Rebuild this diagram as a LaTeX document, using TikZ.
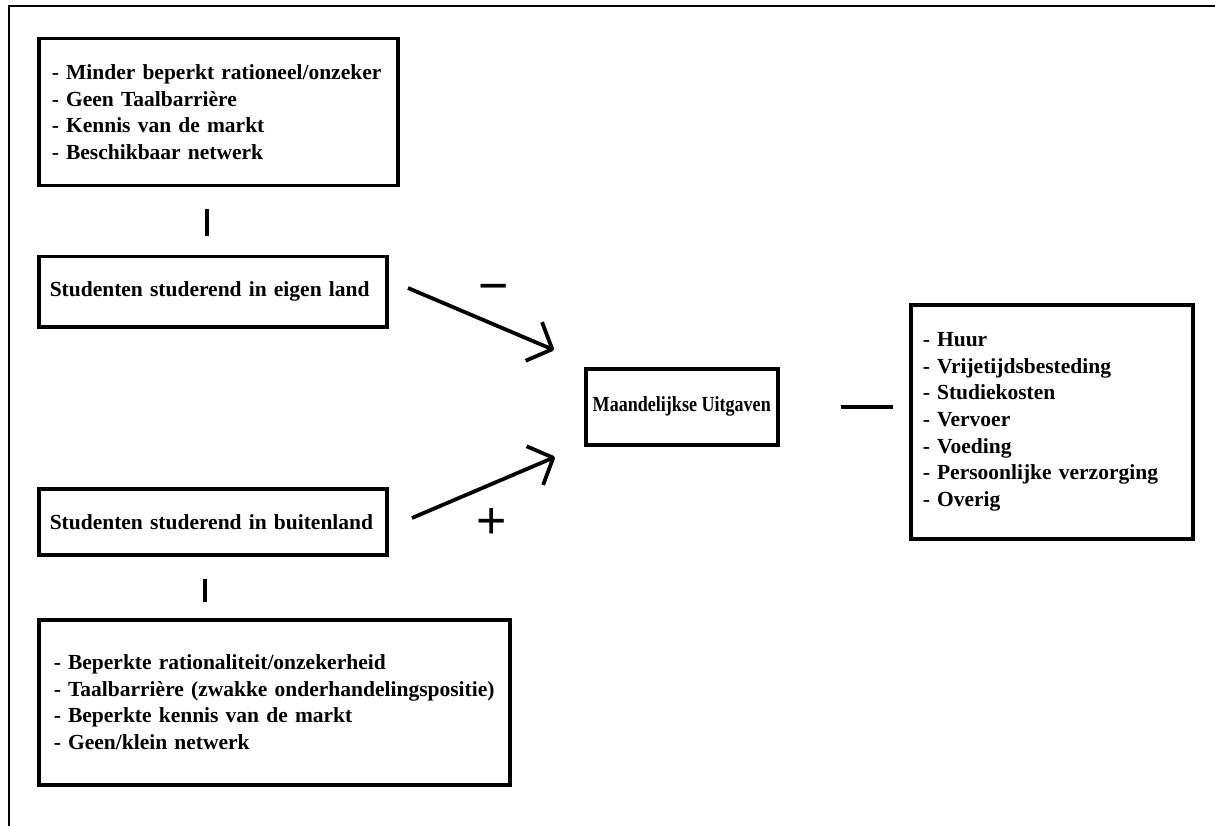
\documentclass[tikz,border=0pt]{standalone}
\usepackage{fontspec}
\setmainfont{Liberation Serif}
\newfontfamily\signfont{Liberation Sans}
\usetikzlibrary{arrows.meta}
\begin{document}
\begin{tikzpicture}[x=1pt,y=-1pt,
  box/.style={draw, line width=3.5pt, anchor=north west, inner ysep=0pt,
    font=\bfseries\fontsize{21.5}{26.7}\selectfont},
  conn/.style={line width=3.8pt},
  arr/.style={line width=3.8pt, -{Straight Barb[length=20pt,width=42pt,line join=round]}},
  sign/.style={font=\signfont\fontsize{52}{52}\selectfont, inner sep=0pt}]
\useasboundingbox (0,0) rectangle (1215,826);
\fill[white] (0,0) rectangle (1215,826);
% outer frame
\draw[line width=2pt] (9,826) -- (9,6.5) -- (1215,6.5);
% boxes
\node[box, minimum width=359pt, minimum height=147pt, inner xsep=13pt, text width=333pt, align=left] (top) at (37,37)
  {- Minder beperkt rationeel/onzeker\\- Geen Taalbarrière\\- Kennis van de markt\\- Beschikbaar netwerk};
\node[box, minimum width=348pt, minimum height=70pt, inner xsep=11pt, text width=326pt, align=left] (eigen) at (37,255)
  {Studenten studerend in eigen land};
\node[box, minimum width=348pt, minimum height=66pt, inner xsep=11pt, text width=326pt, align=left] (buiten) at (37,487)
  {Studenten studerend in buitenland};
\node[box, minimum width=471pt, minimum height=165pt, inner xsep=15pt, text width=441pt, align=left] (bottom) at (37,618)
  {- Beperkte rationaliteit/onzekerheid\\- Taalbarrière (zwakke onderhandelingspositie)\\- Beperkte kennis van de markt\\- Geen/klein netwerk};
\node[box, minimum width=192pt, minimum height=76pt, inner xsep=0pt, align=center] (maand) at (584,367)
  {\raisebox{3pt}{\scalebox{0.84}[1]{Maandelijkse Uitgaven}}};
\node[box, minimum width=282pt, minimum height=234pt, inner xsep=12pt, text width=258pt, align=left] (lst) at (909,303)
  {- Huur\\- Vrijetijdsbesteding\\- Studiekosten\\- Vervoer\\- Voeding\\- Persoonlijke verzorging\\- Overig};
% connectors
\coordinate (vx1) at (207,0);
\coordinate (vx2) at (205,0);
\draw[conn, shorten <=22pt, shorten >=19pt] (top.south -| vx1) -- (eigen.north -| vx1);
\draw[conn, shorten <=22pt, shorten >=16pt] (buiten.south -| vx2) -- (bottom.north -| vx2);
\draw[conn, shorten <=61pt, shorten >=16pt] (maand.east) -- (maand.east -| lst.west);
\coordinate (a1s) at (408,288);
\coordinate (a1e) at (554,350);
\coordinate (a2s) at (412,518);
\coordinate (a2e) at (555,457);
\draw[arr] (a1s) -- (a1e);
\draw[arr] (a2s) -- (a2e);
\node[sign] (minus) at (494,294) {−};
\node[sign] (plus) at (492,523) {+};
\end{tikzpicture}
\end{document}
